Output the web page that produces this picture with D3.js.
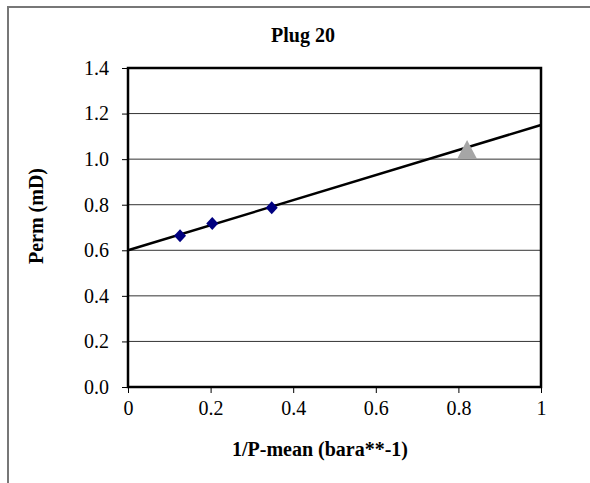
<!DOCTYPE html>
<html>
<head>
<meta charset="utf-8">
<script src="https://cdn.jsdelivr.net/npm/d3@7"></script>
<style>
  body { margin: 0; background: #fff; }
  text { font-family: "Liberation Serif", "Times New Roman", serif; }
</style>
</head>
<body>
<script>
// measured points (blue diamonds)
var invP = [0.126, 0.204, 0.348];
var perm = [0.664, 0.718, 0.787];
// extrapolated point (grey triangle)
var klinkX = [0.821];
var klinkY = [1.042];
// fitted line end points
var fitX = [0, 1];
var fitY = [0.600, 1.150];
var xTicks = [0, 0.2, 0.4, 0.6, 0.8, 1];
var yTicks = [0, 0.2, 0.4, 0.6, 0.8, 1.0, 1.2, 1.4];

window.onload = drawChart();

function drawChart(){
    var width = 590, height = 483;
    var left = 128, right = 541, top = 68, bottom = 387;

    var svg = d3.select("body").append("svg")
        .attr("width", width)
        .attr("height", height);

    // chart area border (runs off the right/bottom edges)
    svg.append("rect")
        .attr("x", 8).attr("y", 7)
        .attr("width", 640).attr("height", 520)
        .attr("fill", "#fff")
        .attr("stroke", "#777")
        .attr("stroke-width", 2);

    var x = d3.scaleLinear().domain([0, 1]).range([left, right]);
    var y = d3.scaleLinear().domain([0, 1.4]).range([bottom, top]);

    // gridlines
    svg.append("g").selectAll("line")
        .data(yTicks.filter(function(d){ return d > 0 && d < 1.4; }))
        .enter().append("line")
        .attr("x1", left).attr("x2", right)
        .attr("y1", function(d){ return y(d); })
        .attr("y2", function(d){ return y(d); })
        .attr("stroke", "#333")
        .attr("stroke-width", 1);

    // axes
    var yAxis = d3.axisLeft(y).tickValues(yTicks).tickSize(6).tickPadding(13)
        .tickFormat(d3.format(".1f"));
    var xAxis = d3.axisBottom(x).tickValues(xTicks).tickSize(6).tickPadding(8)
        .tickFormat(function(d){ return d === 0 || d === 1 ? d3.format("d")(d) : d3.format(".1f")(d); });

    var gy = svg.append("g").attr("transform", "translate(" + left + ",0)").call(yAxis);
    var gx = svg.append("g").attr("transform", "translate(0," + bottom + ")").call(xAxis);
    [gx, gy].forEach(function(g){
        g.attr("font-family", "Liberation Serif").attr("font-size", 20);
        g.select(".domain").remove();
        g.selectAll(".tick line").attr("stroke", "#000");
        g.selectAll(".tick text")
            .attr("fill", "#000")
            .style("font-family", "'Liberation Serif', serif")
            .style("font-size", "20px");
    });

    // plot frame
    svg.append("rect")
        .attr("x", left).attr("y", top)
        .attr("width", right - left).attr("height", bottom - top)
        .attr("fill", "none")
        .attr("stroke", "#000")
        .attr("stroke-width", 2.5);

    // fitted line
    var line = d3.line()
        .x(function(d){ return x(d[0]); })
        .y(function(d){ return y(d[1]); });
    svg.append("path")
        .datum(d3.zip(fitX, fitY))
        .attr("d", line)
        .attr("fill", "none")
        .attr("stroke", "#000")
        .attr("stroke-width", 2.5);

    // diamonds
    svg.append("g").selectAll("path")
        .data(d3.zip(invP, perm))
        .enter().append("path")
        .attr("transform", function(d){ return "translate(" + x(d[0]) + "," + y(d[1]) + ")"; })
        .attr("d", "M0,-6.5L6,0L0,6.5L-6,0Z")
        .attr("fill", "#000080");

    // triangle
    svg.append("g").selectAll("path")
        .data(d3.zip(klinkX, klinkY))
        .enter().append("path")
        .attr("transform", function(d){ return "translate(" + x(d[0]) + "," + y(d[1]) + ")"; })
        .attr("d", "M0,-9.5L10,9.5L-10,9.5Z")
        .attr("fill", "#a6a6a6");

    // titles
    svg.append("text")
        .attr("x", 303).attr("y", 42)
        .attr("text-anchor", "middle")
        .style("font-size", "20px").style("font-weight", "bold")
        .text("Plug 20");

    svg.append("text")
        .attr("x", 320).attr("y", 456)
        .attr("text-anchor", "middle")
        .style("font-size", "20px").style("font-weight", "bold")
        .text("1/P-mean (bara**-1)");

    svg.append("text")
        .attr("transform", "translate(43,216) rotate(-90)")
        .attr("text-anchor", "middle")
        .style("font-size", "20px").style("font-weight", "bold")
        .text("Perm (mD)");
}
</script>
</body>
</html>
